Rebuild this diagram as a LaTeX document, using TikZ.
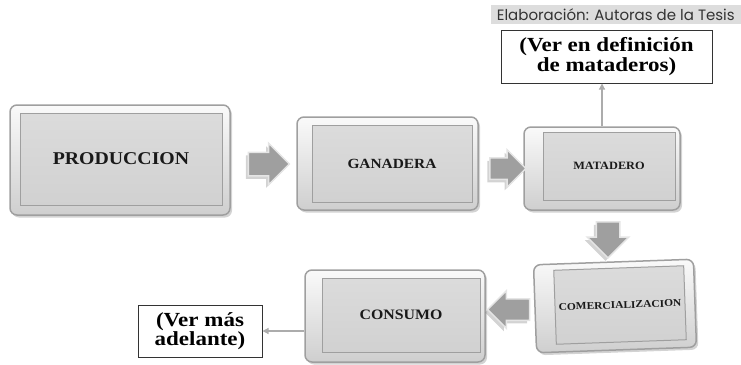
\documentclass[tikz,border=0pt]{standalone}
\usepackage{fontspec}
\setmainfont{Liberation Serif}
\newfontfamily\lblfont[FakeStretch=1.1]{Liberation Serif}
\newfontfamily\callfont[FakeStretch=1.15]{Liberation Serif}
\newfontfamily\headfont{Poppins}
\usetikzlibrary{shapes.arrows,shadows,arrows.meta}
\begin{document}
\begin{tikzpicture}[x=1pt,y=-1pt,
 bevel/.style={draw=gray!75,line width=1.5pt,rounded corners=7pt,top color=gray!4,bottom color=gray!38,
   drop shadow={shadow xshift=2pt,shadow yshift=-2.5pt,opacity=0.35},inner sep=0pt},
 panel/.style={draw=gray!75,line width=1pt,top color=gray!28,bottom color=gray!36,inner sep=0pt,text=black!90},
 barrow/.style={single arrow,fill=gray!75,draw=gray!20,line width=1.5pt,inner sep=0pt,
   drop shadow={shadow xshift=-2.5pt,shadow yshift=-3pt,opacity=0.35}},
 callout/.style={draw=black!80,line width=1pt,fill=white,align=center,inner sep=0pt,font=\callfont\bfseries},
 link/.style={draw=gray!65,line width=1.2pt,-{Triangle[width=6pt,length=6pt]}},
 header/.style={fill=gray!27,minimum width=250pt,minimum height=19pt,inner sep=0pt,text=black!80,
   font=\headfont\fontsize{15}{16}\selectfont}]
\useasboundingbox (0,0) rectangle (741,364);

% header
\node[header,anchor=north east] (hdr) at (741,5) {Elaboración: Autoras de la Tesis};

% boxes
\node[bevel,minimum width=220pt,minimum height=110pt] (prodO) at (120,160) {};
\node[panel,minimum width=202pt,minimum height=92pt,font=\lblfont\bfseries\fontsize{18}{20}\selectfont] (prod) at (121,159) {PRODUCCION};

\node[bevel,minimum width=181pt,minimum height=93pt] (ganO) at (387.5,163.5) {};
\node[panel,minimum width=160pt,minimum height=77pt,font=\lblfont\bfseries\fontsize{14}{16}\selectfont] (gan) at (392,163.5) {GANADERA};

\node[bevel,minimum width=156pt,minimum height=83pt] (matO) at (602,168.5) {};
\node[panel,minimum width=132pt,minimum height=68pt,font=\lblfont\bfseries\fontsize{11.2}{13}\selectfont] (mat) at (609,166) {MATADERO};

\node[bevel,rotate=2,minimum width=160pt,minimum height=88pt] (comO) at (615,306) {};
\node[panel,rotate=2,minimum width=130pt,minimum height=74pt,font=\lblfont\bfseries\fontsize{10.4}{12}\selectfont] (com) at (620,305) {COMERCIALIZACION};

\node[bevel,minimum width=180pt,minimum height=92pt] (conO) at (395,316) {};
\node[panel,minimum width=158pt,minimum height=74pt,font=\lblfont\bfseries\fontsize{14.4}{16}\selectfont] (con) at (401,315) {CONSUMO};

% block arrows (shaft width set by strut)
\node[barrow,minimum height=41pt,single arrow head extend=9pt] (a1) at (263,164) {\rule{0pt}{22pt}};
\node[barrow,minimum height=36pt,single arrow head extend=8pt] (a2) at (502.5,168.5) {\rule{0pt}{20pt}};
\node[barrow,shape border rotate=270,minimum height=36pt,single arrow head extend=9pt] (a3) at (608,234) {\rule{22pt}{0pt}};
\node[barrow,shape border rotate=180,minimum height=42pt,single arrow head extend=8pt] (a4) at (514,309.5) {\rule{0pt}{20pt}};

% callouts
\node[callout,minimum width=211pt,minimum height=53pt,font=\callfont\bfseries\fontsize{20}{19.5}\selectfont] (def) at (606.5,56.5) {(Ver en definición\\de mataderos)};
\node[callout,minimum width=124pt,minimum height=52pt,font=\callfont\bfseries\fontsize{20}{19.5}\selectfont] (ver) at (200,331) {(Ver más\\adelante)};

% links
\coordinate (upx) at (602,0);
\draw[link] (matO.north -| upx) -- (def.south -| upx);
\draw[link] (ver.east -| conO.west) -- (ver.east);
\end{tikzpicture}
\end{document}
